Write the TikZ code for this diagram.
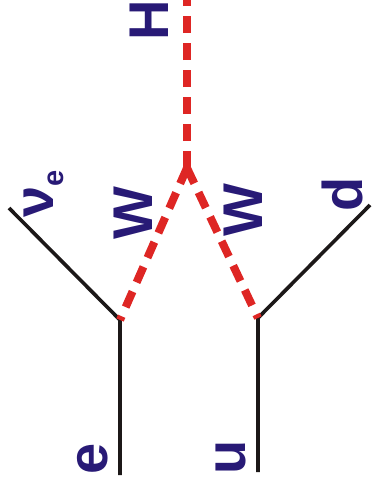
\documentclass[tikz,border=0pt]{standalone}
\usepackage{fontspec}
\setmainfont{Liberation Sans}
\definecolor{bosonred}{RGB}{222,38,36}
\definecolor{labelblue}{RGB}{40,26,118}
\definecolor{lineblack}{RGB}{28,24,24}
\tikzset{
    fermion/.style={line width=3.6pt, draw=lineblack},
    boson/.style={line width=8pt, draw=bosonred, dash pattern=on 17pt off 10pt},
    lbl/.style={text=labelblue, font=\fontsize{56}{60}\selectfont\bfseries, rotate=90, inner sep=0pt, anchor=base west}
}
\begin{document}
\begin{tikzpicture}[x=1pt, y=-1pt]
    \useasboundingbox (0,0) rectangle (372,493);
    % Vertices and free ends.
    \coordinate (vtop) at (187,168);
    \coordinate (vleft) at (120,320);
    \coordinate (vright) at (258,318);
    \coordinate (hend) at (187,0);
    \coordinate (eend) at (120,475);
    \coordinate (nuend) at (9,208);
    \coordinate (uend) at (258,472);
    \coordinate (dend) at (370,205);

    % Fermion lines.
    \draw[fermion] (eend) -- (vleft) -- (nuend);
    \draw[fermion] (uend) -- (vright) -- (dend);

    % Higgs and W propagators.
    \draw[boson] (vtop) -- (hend);
    \draw[boson] (vtop) -- (vleft);
    \draw[boson] (vtop) -- (vright);

    % Labels.
    \node[lbl] (hlbl) at (168,41) {H};
    \node[lbl] (wleft) at (152,240) {W};
    \node[lbl] (wright) at (262,237) {W};
    \node[lbl] (dlbl) at (362,212) {d};
    \node[lbl] (ulbl) at (245,475) {u};
    \node[lbl] (elbl) at (107,475) {e};
    \node[lbl] (nulbl) at (53,218) {ν\raisebox{-10pt}{\fontsize{29}{30}\selectfont e}};
\end{tikzpicture}
\end{document}
